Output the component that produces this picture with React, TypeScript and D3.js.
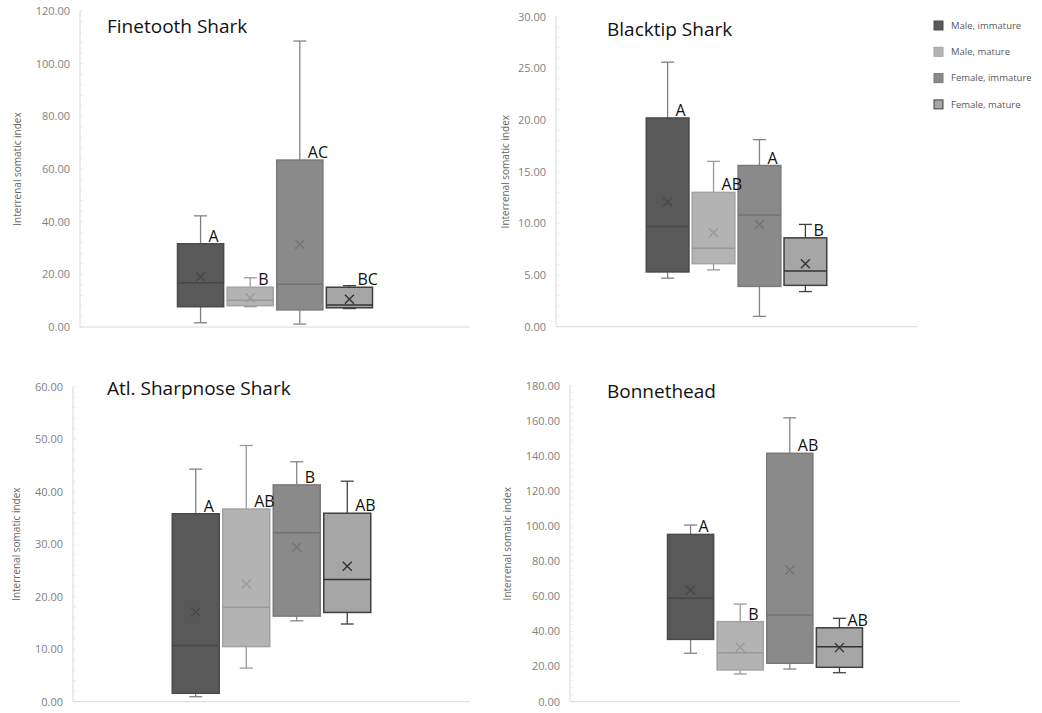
import { useEffect, useRef } from 'react'
import * as d3 from 'd3'

const groups = ['Male, immature', 'Male, mature', 'Female, immature', 'Female, mature']

// each row: [min, q1, median, q3, max, mean]
const finetooth = [
  [1.6, 7.7, 16.8, 31.6, 42.2, 19.1],
  [7.7, 8.1, 10.2, 15.1, 18.7, 11.1],
  [1.1, 6.5, 16.2, 63.4, 108.6, 31.4],
  [7.0, 7.3, 8.4, 15.1, 15.7, 10.5],
]
const finetoothLetters = ['A', 'B', 'AC', 'BC']

const blacktip = [
  [4.7, 5.3, 9.7, 20.2, 25.6, 12.1],
  [5.5, 6.1, 7.6, 13.0, 16.0, 9.1],
  [1.0, 3.9, 10.8, 15.6, 18.1, 9.9],
  [3.4, 4.0, 5.4, 8.6, 9.9, 6.1],
]
const blacktipLetters = ['A', 'AB', 'A', 'B']

const sharpnose = [
  [0.95, 1.6, 10.7, 35.8, 44.3, 17.1],
  [6.4, 10.5, 18.0, 36.7, 48.8, 22.4],
  [15.4, 16.3, 32.2, 41.3, 45.7, 29.4],
  [14.8, 17.0, 23.3, 35.9, 42.0, 25.8],
]
const sharpnoseLetters = ['A', 'AB', 'B', 'AB']

const bonnethead = [
  [27.6, 35.5, 58.9, 95.3, 100.6, 63.5],
  [15.8, 18.1, 27.9, 45.6, 55.6, 31.0],
  [18.6, 21.9, 49.4, 141.5, 161.7, 75.0],
  [16.5, 19.6, 31.3, 42.1, 47.5, 30.8],
]
const bonnetheadLetters = ['A', 'B', 'AB', 'AB']

const fills = ['#595959', '#b3b3b3', '#8a8a8a', '#a6a6a6']
const borders = ['#4a4a4a', '#a3a3a3', '#7a7a7a', '#404040']
const inner = ['#474747', '#999999', '#737373', '#333333']
const whiskerColors = ['#808080', '#9a9a9a', '#858585', '#404040']

const font = '"Open Sans", sans-serif'

const panels = [
  { title: 'Finetooth Shark', stats: finetooth, letters: finetoothLetters, yMax: 120, step: 20,
    left: 80, right: 470, top: 11, bottom: 327, titleX: 107, titleY: 33, yTitleX: 17 },
  { title: 'Blacktip Shark', stats: blacktip, letters: blacktipLetters, yMax: 30, step: 5,
    left: 556, right: 917, top: 16.7, bottom: 326.7, titleX: 607, titleY: 36, yTitleX: 505 },
  { title: 'Atl. Sharpnose Shark', stats: sharpnose, letters: sharpnoseLetters, yMax: 60, step: 10,
    left: 73, right: 470, top: 386.7, bottom: 701.7, titleX: 107, titleY: 395, yTitleX: 16 },
  { title: 'Bonnethead', stats: bonnethead, letters: bonnetheadLetters, yMax: 180, step: 20,
    left: 570, right: 960, top: 385.7, bottom: 701.7, titleX: 607, titleY: 398, yTitleX: 507 },
]

const App = () => {
  const svgRef = useRef(null)

  useEffect(() => {
    document.body.style.margin = '0'
    const svg = d3.select(svgRef.current)
    svg.selectAll('*').remove()

    panels.forEach((p) => {
      const g = svg.append('g')
      const y = d3.scaleLinear().domain([0, p.yMax]).range([p.bottom, p.top])
      const mid = (p.left + p.right) / 2
      const quarter = (p.right - p.left) / 4
      const x = d3.scaleBand().domain(groups).range([mid - quarter, mid + quarter]).paddingInner(0.07)
      const bw = x.bandwidth()

      // minor ticks
      g.selectAll('.minor')
        .data(d3.range(0, p.yMax + 0.001, p.step / 5))
        .join('line')
        .attr('x1', p.left).attr('x2', p.left + 3)
        .attr('y1', (d) => y(d)).attr('y2', (d) => y(d))
        .attr('stroke', '#ececec')

      // axes
      g.append('line')
        .attr('x1', p.left).attr('x2', p.left)
        .attr('y1', p.top).attr('y2', p.bottom)
        .attr('stroke', '#d9d9d9')
      g.append('line')
        .attr('x1', p.left).attr('x2', p.right)
        .attr('y1', p.bottom).attr('y2', p.bottom)
        .attr('stroke', '#d9d9d9')

      g.selectAll('.tick')
        .data(y.ticks(p.yMax / p.step))
        .join('text')
        .attr('x', p.left - 10)
        .attr('y', (d) => y(d))
        .attr('dy', '0.35em')
        .attr('text-anchor', 'end')
        .style('font-family', font)
        .style('font-size', '11px')
        .attr('fill', '#7f7f7f')
        .text((d) => d3.format('.2f')(d))

      g.append('text')
        .attr('transform', `translate(${p.yTitleX},${(p.top + p.bottom) / 2}) rotate(-90)`)
        .attr('dy', '0.35em')
        .attr('text-anchor', 'middle')
        .style('font-family', font)
        .style('font-size', '10px')
        .attr('fill', '#666')
        .text('Interrenal somatic index')

      g.append('text')
        .attr('x', p.titleX).attr('y', p.titleY)
        .style('font-family', font)
        .style('font-size', '19px')
        .attr('fill', '#111')
        .text(p.title)

      p.stats.forEach((s, i) => {
        const [mn, q1, med, q3, mx, mean] = s
        const x0 = x(groups[i])
        const cx = x0 + bw / 2
        const b = g.append('g')
        const cap = 6.5

        // whiskers
        b.append('line').attr('x1', cx).attr('x2', cx).attr('y1', y(mx)).attr('y2', y(q3))
          .attr('stroke', whiskerColors[i]).attr('stroke-width', 1.3)
        b.append('line').attr('x1', cx).attr('x2', cx).attr('y1', y(q1)).attr('y2', y(mn))
          .attr('stroke', whiskerColors[i]).attr('stroke-width', 1.3)
        b.append('line').attr('x1', cx - cap).attr('x2', cx + cap).attr('y1', y(mx)).attr('y2', y(mx))
          .attr('stroke', whiskerColors[i]).attr('stroke-width', 1.3)
        b.append('line').attr('x1', cx - cap).attr('x2', cx + cap).attr('y1', y(mn)).attr('y2', y(mn))
          .attr('stroke', whiskerColors[i]).attr('stroke-width', 1.3)

        b.append('rect')
          .attr('x', x0).attr('width', bw)
          .attr('y', y(q3)).attr('height', y(q1) - y(q3))
          .attr('fill', fills[i])
          .attr('stroke', borders[i])
          .attr('stroke-width', 1.5)

        b.append('line').attr('x1', x0).attr('x2', x0 + bw).attr('y1', y(med)).attr('y2', y(med))
          .attr('stroke', inner[i]).attr('stroke-width', 1.5)

        const m = 4.5
        const my = y(mean)
        b.append('path')
          .attr('d', `M${cx - m},${my - m}L${cx + m},${my + m}M${cx - m},${my + m}L${cx + m},${my - m}`)
          .attr('stroke', inner[i]).attr('stroke-width', 1.4).attr('fill', 'none')
      })

      // significance letters on top of every box
      p.stats.forEach((s, i) => {
        const cx = x(groups[i]) + bw / 2
        g.append('text')
          .attr('x', cx + 8).attr('y', y(s[3]) - 2)
          .style('font-family', font)
          .style('font-size', '16px')
          .attr('fill', '#111')
          .text(p.letters[i])
      })
    })

    // legend
    const legend = svg.append('g').attr('transform', 'translate(934,21)')
    groups.forEach((name, i) => {
      const row = legend.append('g').attr('transform', `translate(0,${i * 26.3})`)
      row.append('rect').attr('width', 9).attr('height', 9)
        .attr('fill', fills[i]).attr('stroke', borders[i])
      row.append('text').attr('x', 17).attr('y', 4.5).attr('dy', '0.35em')
        .style('font-family', font).style('font-size', '9.5px')
        .attr('fill', '#595959')
        .text(name)
    })
  }, [])

  return (
    <div>
      <svg ref={svgRef} width={1042} height={713} style={{ display: 'block', background: '#fff' }}></svg>
    </div>
  )
}

export default App
